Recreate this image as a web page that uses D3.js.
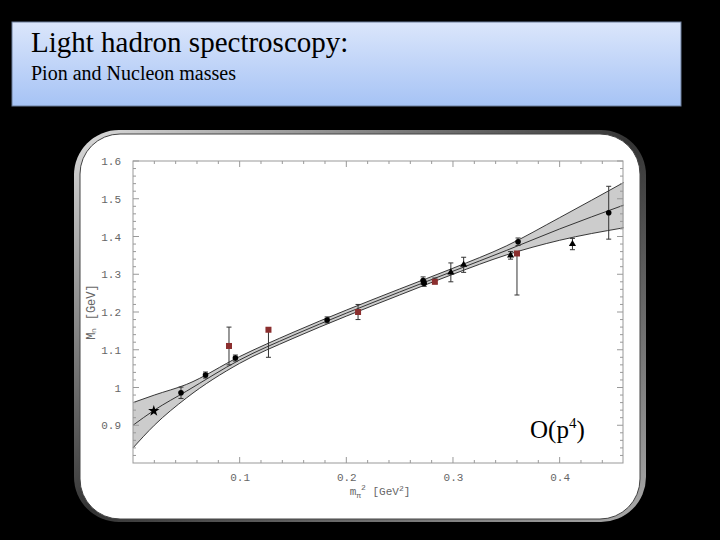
<!DOCTYPE html>
<html><head><meta charset="utf-8">
<script src="https://cdn.jsdelivr.net/npm/d3@7"></script>
<style>body{margin:0;background:#000}</style></head>
<body><svg id="c" width="720" height="540"></svg>
<script>
const xTicks=[0.1,0.2,0.3,0.4];
const yTicks=[0.9,1,1.1,1.2,1.3,1.4,1.5,1.6];
const fitX=[0,0.02,0.05,0.1,0.15,0.2,0.25,0.3,0.35,0.4,0.46];
const fitC=[0.90,0.94,0.99,1.073,1.138,1.197,1.253,1.308,1.363,1.42,1.483];
const fitHW=[0.06,0.04,0.018,0.009,0.008,0.008,0.008,0.008,0.012,0.03,0.06];
const circX=[0.045,0.068,0.096,0.182,0.272,0.273,0.361,0.446];
const circY=[0.986,1.033,1.078,1.179,1.283,1.276,1.386,1.463];
const circE=[0.015,0.008,0.008,0.008,0.01,0.008,0.01,0.07];
const sqX=[0.090,0.127,0.211,0.283,0.360];
const sqY=[1.11,1.153,1.20,1.28,1.355];
const sqLo=[1.06,1.08,1.18,1.275,1.245];
const sqHi=[1.16,1.155,1.22,1.29,1.355];
const triX=[0.298,0.310,0.354,0.412];
const triY=[1.305,1.325,1.35,1.38];
const triE=[0.025,0.02,0.01,0.015];
const starX=[0.0195], starY=[0.938];

const svg=d3.select("#c");
const defs=svg.append("defs");
const g1=defs.append("linearGradient").attr("id","tb").attr("x1",0).attr("y1",0).attr("x2",0).attr("y2",1);
g1.append("stop").attr("offset","0%").attr("stop-color","#dbe6fb");
g1.append("stop").attr("offset","100%").attr("stop-color","#a6c3f5");
const g2=defs.append("linearGradient").attr("id","fr").attr("x1",0).attr("y1",0).attr("x2",1).attr("y2",1);
g2.append("stop").attr("offset","0%").attr("stop-color","#ddd");
g2.append("stop").attr("offset","50%").attr("stop-color","#333");
g2.append("stop").attr("offset","100%").attr("stop-color","#aaa");

svg.append("rect").attr("x",12).attr("y",22).attr("width",669).attr("height",84).attr("fill","url(#tb)").attr("stroke","#6b7d9a");
svg.append("text").attr("x",31).attr("y",52).attr("font-family","Liberation Serif").attr("font-size",29).text("Light hadron spectroscopy:");
svg.append("text").attr("x",31).attr("y",80).attr("font-family","Liberation Serif").attr("font-size",20).text("Pion and Nucleon masses");

svg.append("rect").attr("x",74).attr("y",130).attr("width",572).attr("height",392).attr("rx",45).attr("fill","url(#fr)");
svg.append("rect").attr("x",80).attr("y",134).attr("width",560).attr("height",385).attr("rx",40).attr("fill","#fff").attr("stroke","#444");

const x=d3.scaleLinear().domain([0,0.4594]).range([133,623]);
const y=d3.scaleLinear().domain([0.8,1.6]).range([463,161]);
const p=svg.append("g");
const fit=fitX.map((v,i)=>({x:v,c:fitC[i],h:fitHW[i]}));
p.append("path").datum(fit).attr("d",d3.area().x(d=>x(d.x)).y0(d=>y(d.c-d.h)).y1(d=>y(d.c+d.h)).curve(d3.curveMonotoneX)).attr("fill","#ccc");
[-1,0,1].forEach(s=>p.append("path").datum(fit).attr("d",d3.line().x(d=>x(d.x)).y(d=>y(d.c+s*d.h)).curve(d3.curveMonotoneX)).attr("fill","none").attr("stroke","#222").attr("stroke-width",0.9));

p.append("rect").attr("x",133).attr("y",161).attr("width",490).attr("height",302).attr("fill","none").attr("stroke","#999");
const xa=svg.append("g").attr("transform","translate(0,463)").call(d3.axisBottom(x).tickValues(xTicks).tickSize(0).tickPadding(10).tickFormat(d3.format(".1f")));
const ya=svg.append("g").attr("transform","translate(133,0)").call(d3.axisLeft(y).tickValues(yTicks).tickSize(0).tickPadding(12).tickFormat(d=>d===1?"1":d3.format(".1f")(d)));
[xa,ya].forEach(a=>{a.select(".domain").remove();a.selectAll("text").attr("font-family","Liberation Mono").attr("font-size",11).attr("fill","#666");});
d3.range(0.02,0.46,0.02).forEach(v=>{[[463,-3],[161,3]].forEach(([b,d])=>p.append("line").attr("x1",x(v)).attr("x2",x(v)).attr("y1",b).attr("y2",b+d*(Math.abs(v*10-Math.round(v*10))<1e-6?2:1)).attr("stroke","#999"));});
d3.range(0.82,1.6,0.02).forEach(v=>{[[133,3],[623,-3]].forEach(([b,d])=>p.append("line").attr("y1",y(v)).attr("y2",y(v)).attr("x1",b).attr("x2",b+d*(Math.abs(v*10-Math.round(v*10))<1e-6?2:1)).attr("stroke","#999"));});

function eb(xs,lo,hi){xs.forEach((v,i)=>{p.append("line").attr("x1",x(v)).attr("x2",x(v)).attr("y1",y(lo[i])).attr("y2",y(hi[i])).attr("stroke","#333");
[lo[i],hi[i]].forEach(e=>p.append("line").attr("x1",x(v)-2.5).attr("x2",x(v)+2.5).attr("y1",y(e)).attr("y2",y(e)).attr("stroke","#333"));});}
eb(circX,circY.map((v,i)=>v-circE[i]),circY.map((v,i)=>v+circE[i]));
eb(sqX,sqLo,sqHi);
eb(triX,triY.map((v,i)=>v-triE[i]),triY.map((v,i)=>v+triE[i]));
circX.forEach((v,i)=>p.append("circle").attr("cx",x(v)).attr("cy",y(circY[i])).attr("r",2.8).attr("fill","#000"));
sqX.forEach((v,i)=>p.append("rect").attr("x",x(v)-3).attr("y",y(sqY[i])-3).attr("width",6).attr("height",6).attr("fill","#8b2e2e"));
triX.forEach((v,i)=>p.append("path").attr("d",d3.symbol(d3.symbolTriangle,22)()).attr("transform",`translate(${x(v)},${y(triY[i])})`).attr("fill","#000"));
starX.forEach((v,i)=>p.append("path").attr("d",d3.symbol(d3.symbolStar,40)()).attr("transform",`translate(${x(v)},${y(starY[i])})`).attr("fill","#000"));

svg.append("text").attr("transform","translate(95,312) rotate(-90)").attr("text-anchor","middle").attr("font-family","Liberation Mono").attr("font-size",12).attr("fill","#666").text("M\u2099  [GeV]");
const xl=svg.append("text").attr("x",380).attr("y",495).attr("text-anchor","middle").attr("font-family","Liberation Mono").attr("font-size",11).attr("fill","#666");
xl.append("tspan").text("m");xl.append("tspan").attr("font-size",8).attr("dy",3).text("π");xl.append("tspan").attr("font-size",8).attr("dy",-8).text("2");xl.append("tspan").attr("dy",5).text("  [GeV");xl.append("tspan").attr("font-size",8).attr("dy",-4).text("2");xl.append("tspan").attr("dy",4).text("]");
const o=svg.append("text").attr("x",530).attr("y",438).attr("font-family","Liberation Serif").attr("font-size",25).text("O(p");
o.append("tspan").attr("font-size",15).attr("dy",-10).text("4");o.append("tspan").attr("dy",10).text(")");
</script></body></html>
